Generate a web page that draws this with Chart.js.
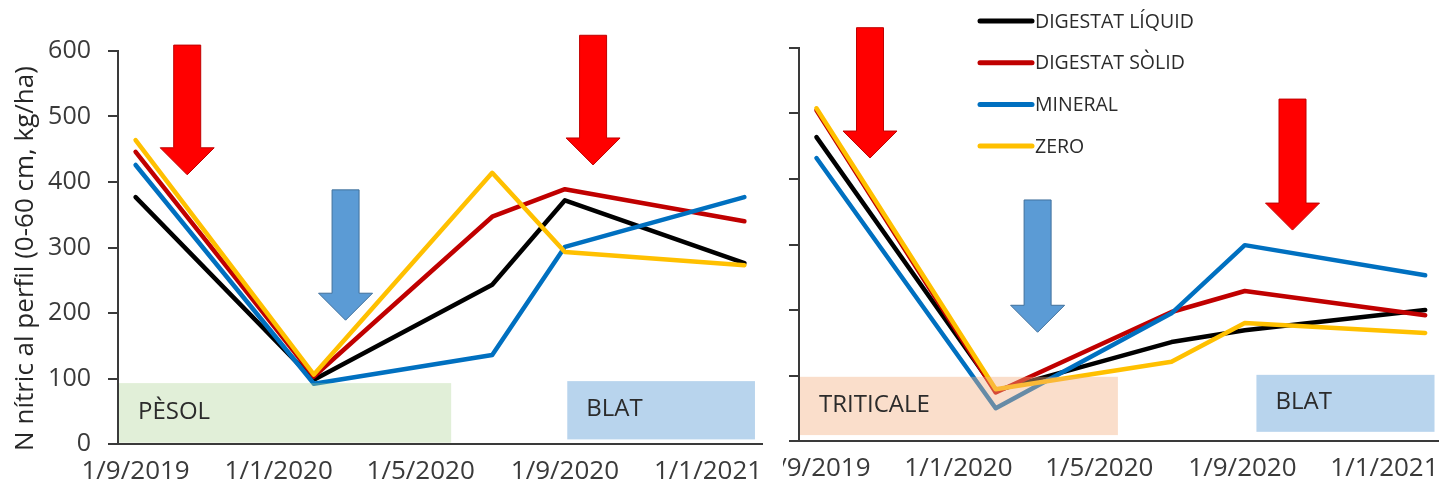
<!DOCTYPE html>
<html><head><meta charset="utf-8">
<script src="https://cdn.jsdelivr.net/npm/chart.js@4.4.1/dist/chart.umd.min.js"></script>
<style>
html,body{margin:0;padding:0;background:#fff;}
#wrap{position:relative;width:1443px;height:494px;overflow:hidden;background:#fff;}
#leftBox{position:absolute;left:0;top:0;width:775px;height:494px;}
#rightBox{position:absolute;left:783px;top:0;width:660px;height:494px;overflow:hidden;}
#rightCanvas{position:absolute;left:-44px;top:0;}
</style></head><body>
<div id="wrap">
<div id="leftBox"><canvas id="leftCanvas" width="775" height="494"></canvas></div>
<div id="rightBox"><canvas id="rightCanvas" width="704" height="494"></canvas></div>
</div>
<script>
// ---------- data ----------
const seriesLabels = ['DIGESTAT LÍQUID', 'DIGESTAT SÒLID', 'MINERAL', 'ZERO'];
const seriesColors = ['#000000', '#c00000', '#0070c0', '#ffc000'];
const tickDates = ['2019-09-01', '2020-01-01', '2020-05-01', '2020-09-01', '2021-01-01'];
const tickLabels = ['1/9/2019', '1/1/2020', '1/5/2020', '1/9/2020', '1/1/2021'];
const yTicks = [0, 100, 200, 300, 400, 500, 600];
const yTitle = 'N nítric al perfil (0-60 cm, kg/ha)';

// Left panel (pèsol -> blat)
const datesLeft = ['2019-09-01', '2020-01-31', '2020-07-01', '2020-09-01', '2021-02-01'];
const leftLiquid  = [377, 98, 243, 372, 276];
const leftSolid   = [446, 103, 347, 389, 340];
const leftMineral = [426, 92, 136, 301, 377];
const leftZero    = [464, 106, 414, 293, 273];

// Right panel (triticale -> blat)
const datesRight = ['2019-09-01', '2020-02-02', '2020-07-02', '2020-09-03', '2021-02-05'];
const rightLiquid  = [464, 77, 151, 169, 200];
const rightSolid   = [505, 74, 197, 229, 192];
const rightMineral = [432, 50, 195, 299, 253];
const rightZero    = [508, 79, 121, 180, 165];

// crop periods (date ranges) and fertilisation events
const cropLabelsLeft = ['PÈSOL', 'BLAT'];
const cropFromLeft = [null, '2020-09-03'];
const cropToLeft = ['2020-05-27', '2021-02-10'];
const cropLabelsRight = ['TRITICALE', 'BLAT'];
const cropFromRight = [null, '2020-09-13'];
const cropToRight = ['2020-05-17', '2021-02-13'];

const eventDatesLeft = ['2019-10-15', '2020-02-27', '2020-09-25'];
const eventTypesLeft = ['organic', 'mineral', 'organic'];
const eventDatesRight = ['2019-10-17', '2020-03-09', '2020-10-14'];
const eventTypesRight = ['organic', 'mineral', 'organic'];

// ---------- helpers ----------
const FONT = "'Open Sans', sans-serif";
const T0 = Date.parse('2019-09-01');
const dayOf = s => (Date.parse(s) - T0) / 86400000;
const X_MIN = -15, X_MAX = 534;

const cropStyle = {
  'PÈSOL': {fill: 'rgba(169,209,142,0.35)', low: 2, high: 93},
  'BLAT': {fill: 'rgba(91,155,213,0.43)', low: 7, high: 96},
  'TRITICALE': {fill: 'rgba(244,177,131,0.42)', low: 9, high: 98}
};
const arrowStyle = {
  organic: {fill: '#ff0000', stroke: '#c00000'},
  mineral: {fill: '#5b9bd5', stroke: '#41719c'}
};

const decorPlugin = {
  id: 'decor',
  afterDatasetsDraw(chart, args, o) {
    const ctx = chart.ctx, xs = chart.scales.x, ys = chart.scales.y, ca = chart.chartArea;
    o.crops.labels.forEach((lab, i) => {
      const st = (o.crops.styleOverride && o.crops.styleOverride[i]) ? o.crops.styleOverride[i] : cropStyle[lab];
      const x1 = o.crops.from[i] === null ? ca.left + 1 : xs.getPixelForValue(dayOf(o.crops.from[i]));
      const x2 = xs.getPixelForValue(dayOf(o.crops.to[i]));
      const y1 = ys.getPixelForValue(st.high), y2 = ys.getPixelForValue(st.low);
      ctx.save();
      ctx.fillStyle = st.fill;
      ctx.fillRect(x1, y1, x2 - x1, y2 - y1);
      ctx.fillStyle = '#2b2b2b';
      ctx.font = '24px ' + FONT;
      ctx.textBaseline = 'middle';
      ctx.textAlign = 'left';
      ctx.fillText(lab, x1 + 19, (y1 + y2) / 2 - 1);
      ctx.restore();
    });
    o.arrows.dates.forEach((d, i) => {
      const st = arrowStyle[o.arrows.types[i]];
      const cx = xs.getPixelForValue(dayOf(d));
      const yTop = ys.getPixelForValue(o.arrows.top[i]);
      const yTip = ys.getPixelForValue(o.arrows.tip[i]);
      const sw = 13.5, hw = 27, hl = 27;
      ctx.save();
      ctx.beginPath();
      ctx.moveTo(cx - sw, yTop);
      ctx.lineTo(cx + sw, yTop);
      ctx.lineTo(cx + sw, yTip - hl);
      ctx.lineTo(cx + hw, yTip - hl);
      ctx.lineTo(cx, yTip);
      ctx.lineTo(cx - hw, yTip - hl);
      ctx.lineTo(cx - sw, yTip - hl);
      ctx.closePath();
      ctx.fillStyle = st.fill;
      ctx.fill();
      ctx.lineWidth = 1;
      ctx.strokeStyle = st.stroke;
      ctx.stroke();
      ctx.restore();
    });
  },
  afterDraw(chart, args, o) {
    const ctx = chart.ctx, ca = chart.chartArea;
    if (o.title) {
      ctx.save();
      ctx.translate(ca.left - 92, (ca.top + ca.bottom) / 2 + 11);
      ctx.rotate(-Math.PI / 2);
      ctx.fillStyle = '#262626';
      ctx.font = '26px ' + FONT;
      ctx.textAlign = 'center';
      ctx.textBaseline = 'middle';
      ctx.fillText(o.title, 0, 0);
      ctx.restore();
    }
    if (o.legend) {
      ctx.save();
      ctx.font = '19.5px ' + FONT;
      ctx.textBaseline = 'middle';
      ctx.textAlign = 'left';
      seriesLabels.forEach((lab, i) => {
        const y = ca.top - 27 + i * 41.7;
        const x = ca.left + 181;
        ctx.strokeStyle = seriesColors[i];
        ctx.lineWidth = 5;
        ctx.lineCap = 'round';
        ctx.beginPath();
        ctx.moveTo(x, y);
        ctx.lineTo(x + 52, y);
        ctx.stroke();
        ctx.fillStyle = '#2b2b2b';
        ctx.fillText(lab, x + 55, y + 1);
      });
      ctx.restore();
    }
  }
};

function makeChart(canvasId, dates, series, cfg) {
  const days = dates.map(dayOf);
  const datasets = series.map((vals, i) => ({
    label: seriesLabels[i],
    data: vals.map((v, j) => ({x: days[j], y: v})),
    borderColor: seriesColors[i],
    backgroundColor: seriesColors[i],
    borderWidth: 4.5,
    pointRadius: 0,
    tension: 0,
    borderJoinStyle: 'round',
    borderCapStyle: 'round',
    order: series.length - i
  }));
  return new Chart(document.getElementById(canvasId), {
    type: 'line',
    data: {datasets},
    plugins: [decorPlugin],
    options: {
      responsive: false,
      animation: false,
      events: [],
      layout: {padding: {left: 0, right: cfg.padRight, top: cfg.padTop, bottom: 0}},
      plugins: {
        legend: {display: false},
        tooltip: {enabled: false},
        decor: {crops: cfg.crops, arrows: cfg.arrows, title: cfg.title, legend: cfg.legend}
      },
      scales: {
        x: {
          type: 'linear', min: X_MIN, max: X_MAX,
          afterBuildTicks: s => { s.ticks = tickDates.map(d => ({value: dayOf(d)})); },
          afterFit: s => { s.height = cfg.xHeight; s.paddingLeft = 0; s.paddingRight = 0; },
          ticks: {
            callback: v => { const k = tickDates.findIndex(d => dayOf(d) === v); return k >= 0 ? tickLabels[k] : ''; },
            font: {family: FONT, size: 26}, color: '#3a3a3a', padding: cfg.xPad,
            maxRotation: 0, autoSkip: false
          },
          grid: {display: false, drawTicks: false},
          border: {display: true, color: '#3a3a3a', width: 2}
        },
        y: {
          type: 'linear', min: 0, max: 600,
          afterBuildTicks: s => { s.ticks = yTicks.map(v => ({value: v})); },
          afterFit: s => { s.width = cfg.yWidth; },
          ticks: {display: cfg.yLabels, font: {family: FONT, size: 25}, color: '#3a3a3a', padding: 17},
          grid: {display: true, drawOnChartArea: false, drawTicks: true, tickLength: 10, color: '#3a3a3a', lineWidth: 2},
          border: {display: true, color: '#3a3a3a', width: 2}
        }
      }
    }
  });
}

makeChart('leftCanvas', datesLeft, [leftLiquid, leftSolid, leftMineral, leftZero], {
  padRight: 13, padTop: 51, xHeight: 50, yWidth: 118, xPad: 12, yLabels: true,
  title: yTitle, legend: false,
  crops: {labels: cropLabelsLeft, from: cropFromLeft, to: cropToLeft},
  arrows: {dates: eventDatesLeft, types: eventTypesLeft, top: [609, 388, 624], tip: [411, 189, 426]}
});

makeChart('rightCanvas', datesRight, [rightLiquid, rightSolid, rightMineral, rightZero], {
  padRight: 5, padTop: 48, xHeight: 53, yWidth: 60, xPad: 12, yLabels: false,
  title: null, legend: true,
  crops: {labels: cropLabelsRight, from: cropFromRight, to: cropToRight,
          styleOverride: [null, {fill: 'rgba(91,155,213,0.43)', low: 14, high: 101}]},
  arrows: {dates: eventDatesRight, types: eventTypesRight, top: [631, 368, 522], tip: [432, 166, 322]}
});
</script>
</body></html>
